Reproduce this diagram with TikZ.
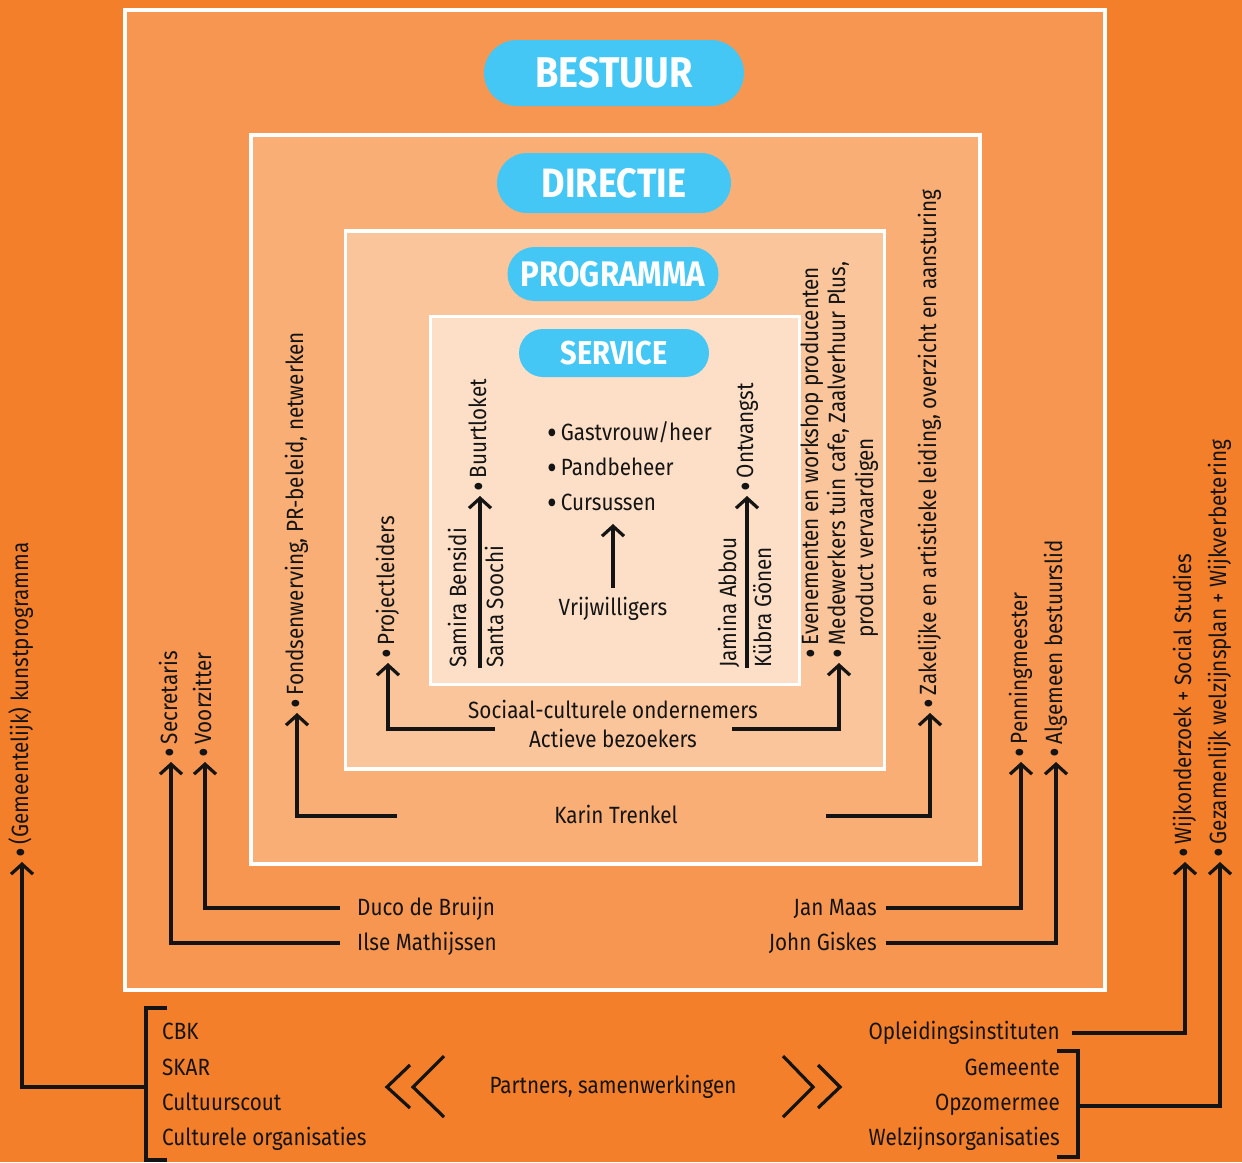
\documentclass[tikz,border=0pt]{standalone}
\usepackage{fontspec}
\setmainfont{Fira Sans}[FakeStretch=0.88]
\usetikzlibrary{arrows.meta}
\definecolor{bgc}{HTML}{F47F2B}
\definecolor{lvA}{HTML}{F79651}
\definecolor{lvB}{HTML}{F9AE75}
\definecolor{lvC}{HTML}{FBC59B}
\definecolor{lvD}{HTML}{FDDFC7}
\definecolor{pillc}{HTML}{45C7F5}
\definecolor{ink}{HTML}{141414}
\newcommand\bul{{\fontsize{34}{34}\selectfont\raisebox{-4pt}{•}}\hspace{4pt}}
\begin{document}
\begin{tikzpicture}[x=1pt,y=-1pt,
  txt/.style={font=\fontsize{23.5}{28}\selectfont, inner sep=0pt, text height=17pt, text depth=5pt, text=ink},
  vtxt/.style={txt, rotate=90, anchor=west},
  conn/.style={line width=3.2pt, draw=ink, line join=miter},
  arr/.style={conn, -{Straight Barb[length=10pt,width=22pt,line width=3.2pt]}, shorten >=4pt},
  pill/.style={fill=pillc, text=white, inner sep=0pt, font=\bfseries}]
\useasboundingbox (0,0) rectangle (1242,1162);
\fill[bgc] (0,0) rectangle (1242,1162);
% nested boxes
\filldraw[fill=lvA, draw=white, line width=4pt] (125,10) rectangle (1105,990);
\filldraw[fill=lvB, draw=white, line width=4pt] (250.5,135) rectangle (979.5,864);
\filldraw[fill=lvC, draw=white, line width=3.5pt] (345.5,231) rectangle (884.5,769);
\filldraw[fill=lvD, draw=white, line width=3.5pt] (430.5,316.5) rectangle (799.5,684.5);
% pills
\node[pill, minimum width=260pt, minimum height=66pt, rounded corners=33pt, font=\bfseries\fontsize{43}{46}\selectfont] (bestuur) at (614,73) {BESTUUR};
\node[pill, minimum width=234pt, minimum height=60pt, rounded corners=30pt, font=\bfseries\fontsize{41}{44}\selectfont] (directie) at (614,183) {DIRECTIE};
\node[pill, minimum width=211pt, minimum height=54pt, rounded corners=27pt, font=\bfseries\fontsize{35.5}{38}\selectfont] (programma) at (613,274) {PROGRAMMA};
\node[pill, minimum width=190pt, minimum height=48pt, rounded corners=24pt, font=\bfseries\fontsize{33}{36}\selectfont] (service) at (614,353) {SERVICE};
% service contents
\node[txt, anchor=west] (gast) at (547,434) {\bul Gastvrouw/heer};
\node[txt, anchor=west] (pand) at (547,469) {\bul Pandbeheer};
\node[txt, anchor=west] (curs) at (547,504) {\bul Cursussen};
\node[txt] (vrijw) at (613,609) {Vrijwilligers};
\coordinate (va) at (613,588);
\coordinate (vb) at (613,524);
\draw[arr, shorten >=0pt] (va) -- (vb);
\node[vtxt] (buurt) at (480,492) {\bul Buurtloket};
\node[vtxt] (samira) at (460,668) {Samira Bensidi};
\node[vtxt] (santa) at (497,668) {Santa Soochi};
\coordinate (ba) at (480,668);
\draw[arr] (ba) -- (buurt.west);
\node[vtxt] (ontv) at (747,492) {\bul Ontvangst};
\node[vtxt] (jamina) at (730,668) {Jamina Abbou};
\node[vtxt] (kubra) at (765,668) {Kübra Gönen};
\coordinate (oa) at (747,668);
\draw[arr] (oa) -- (ontv.west);
% programma level
\node[txt] (soc) at (613,712) {Sociaal-culturele ondernemers};
\node[txt] (act) at (613,741) {Actieve bezoekers};
\node[vtxt] (proj) at (388,659) {\bul Projectleiders};
\node[vtxt] (ev1) at (812,659) {\bul Evenementen en workshop producenten};
\node[vtxt] (ev2) at (839,659) {\bul Medewerkers tuin cafe, Zaalverhuur Plus,};
\node[vtxt] (ev3) at (867,638) {product vervaardigen};
\coordinate (sl) at (495,729);
\coordinate (sr) at (732,729);
\draw[arr] (sl) -| (proj.west);
\draw[arr] (sr) -| (ev2.west);
% directie level
\node[txt] (karin) at (616,817) {Karin Trenkel};
\node[vtxt] (fonds) at (297,709) {\bul Fondsenwerving, PR-beleid, netwerken};
\node[vtxt] (zak) at (930,709) {\bul Zakelijke en artistieke leiding, overzicht en aansturing};
\coordinate (kl) at (397,816);
\coordinate (kr) at (826,816);
\draw[arr] (kl) -| (fonds.west);
\draw[arr] (kr) -| (zak.west);
% bestuur level
\node[txt, anchor=west] (duco) at (357,909) {Duco de Bruijn};
\node[txt, anchor=west] (ilse) at (357,944) {Ilse Mathijssen};
\node[txt, anchor=east] (jan) at (877,909) {Jan Maas};
\node[txt, anchor=east] (john) at (877,944) {John Giskes};
\node[vtxt] (secr) at (171,758) {\bul Secretaris};
\node[vtxt] (voorz) at (205,758) {\bul Voorzitter};
\node[vtxt] (penn) at (1021,758) {\bul Penningmeester};
\node[vtxt] (alg) at (1056,758) {\bul Algemeen bestuurslid};
\draw[arr] ([xshift=-17pt,yshift=1pt]duco.west) -| (voorz.west);
\draw[arr] ([xshift=-17pt,yshift=1pt]ilse.west) -| (secr.west);
\draw[arr] ([xshift=9pt,yshift=1pt]jan.east) -| (penn.west);
\draw[arr] ([xshift=9pt,yshift=1pt]john.east) -| (alg.west);
% outside
\node[vtxt] (kunst) at (22,858) {\bul (Gemeentelijk) kunstprogramma};
\node[vtxt] (wijk) at (1185,858) {\bul Wijkonderzoek + Social Studies};
\node[vtxt] (gezam) at (1220,858) {\bul Gezamenlijk welzijnsplan + Wijkverbetering};
\node[txt, anchor=west] (cbk) at (162,1033) {CBK};
\node[txt, anchor=west] (skar) at (162,1069) {SKAR};
\node[txt, anchor=west] (cscout) at (162,1104) {Cultuurscout};
\node[txt, anchor=west] (corg) at (162,1139) {Culturele organisaties};
\node[txt, anchor=east] (opl) at (1060,1033) {Opleidingsinstituten};
\node[txt, anchor=east] (gem) at (1060,1069) {Gemeente};
\node[txt, anchor=east] (opz) at (1060,1104) {Opzomermee};
\node[txt, anchor=east] (welz) at (1060,1139) {Welzijnsorganisaties};
\node[txt] (partners) at (613,1087) {Partners, samenwerkingen};
% left bracket
\coordinate (lbt) at (167,1008);
\coordinate (lbb) at (167,1160);
\coordinate (lbm) at (146,1087);
\draw[conn] (lbt) -- (146,1008) -- (146,1160) -- (lbb);
\draw[arr] (lbm) -| (kunst.west);
% right bracket
\coordinate (rbt) at (1057,1051);
\coordinate (rbb) at (1057,1157);
\coordinate (rbm) at (1078,1106);
\draw[conn] (rbt) -- (1078,1051) -- (1078,1157) -- (rbb);
\draw[arr] ([xshift=12pt]opl.east) -| (wijk.west);
\draw[arr] (rbm) -| (gezam.west);
% chevrons
\draw[conn] (410,1065) -- (387,1087) -- (410,1108);
\draw[conn] (444,1056) -- (413,1087) -- (444,1117);
\draw[conn] (783,1056) -- (813,1087) -- (783,1117);
\draw[conn] (818,1065) -- (840,1087) -- (818,1108);
\end{tikzpicture}
\end{document}
